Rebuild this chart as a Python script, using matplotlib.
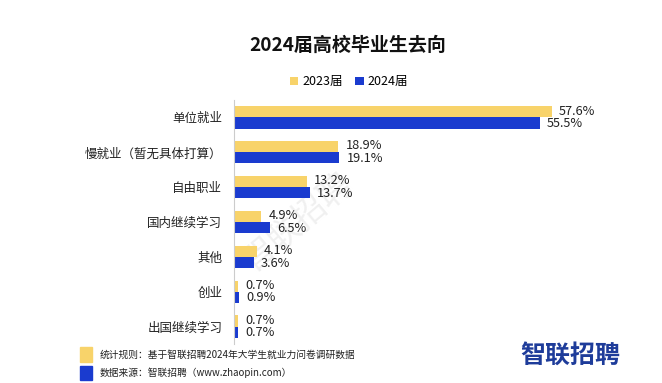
import matplotlib
matplotlib.use('Agg')
import matplotlib.pyplot as plt
from matplotlib.patches import Rectangle
import numpy as np

plt.rcParams['font.family'] = ['Noto Sans CJK SC', 'DejaVu Sans']

categories = ['单位就业', '慢就业（暂无具体打算）', '自由职业', '国内继续学习', '其他', '创业', '出国继续学习']
vals_2023 = [57.6, 18.9, 13.2, 4.9, 4.1, 0.7, 0.7]
vals_2024 = [55.5, 19.1, 13.7, 6.5, 3.6, 0.9, 0.7]
series_names = ['2023届', '2024届']

yellow = '#F8D36A'
blue = '#1A3BCF'

fig = plt.figure(figsize=(6.62, 3.83), dpi=100, facecolor='white')
ax = fig.add_axes([0.3535, 0.102, 0.583, 0.637])

y = np.arange(len(categories))
h = 0.32
b1 = ax.barh(y - h / 2, vals_2023, h, color=yellow, label=series_names[0], zorder=2)
b2 = ax.barh(y + h / 2, vals_2024, h, color=blue, label=series_names[1], zorder=2)

for yi, v in zip(y, vals_2023):
    ax.text(v + 1.3, yi - h / 2 - 0.02, f'{v}%', va='center', ha='left', fontsize=9.2, color='#222222')
for yi, v in zip(y, vals_2024):
    ax.text(v + 1.3, yi + h / 2 + 0.02, f'{v}%', va='center', ha='left', fontsize=9.2, color='#222222')

ax.set_xlim(0, 70)
ax.set_ylim(len(categories) - 0.5, -0.5)
ax.set_yticks(y)
ax.set_yticklabels(categories, fontsize=9, color='#222222')
ax.set_xticks([])
ax.tick_params(axis='y', length=0, pad=8.5)
for s in ['top', 'right', 'bottom']:
    ax.spines[s].set_visible(False)
ax.spines['left'].set_color('#cccccc')
ax.spines['left'].set_linewidth(0.8)

# faint watermark behind the bars
ax.text(0.45, 0.42, '智联招聘', rotation=40, fontsize=24, color='#f0f0f0',
        ha='center', va='center', zorder=0, transform=fig.transFigure)

fig.text(0.525, 0.882, '2024届高校毕业生去向', ha='center', va='center',
         fontsize=13.7, fontweight='bold', color='#111111')

fig.legend(handles=[b1, b2], labels=series_names, loc='center', bbox_to_anchor=(0.527, 0.786),
           ncol=2, frameon=False, fontsize=9, handlelength=0.7, handleheight=0.7,
           handletextpad=0.3, columnspacing=1.0)

# footer notes
fig.add_artist(Rectangle((0.121, 0.055), 0.018, 0.039, transform=fig.transFigure, color=yellow))
fig.add_artist(Rectangle((0.121, 0.008), 0.018, 0.037, transform=fig.transFigure, color=blue))
fig.text(0.15, 0.073, '统计规则：基于智联招聘2024年大学生就业力问卷调研数据', fontsize=7,
         va='center', ha='left', color='#222222')
fig.text(0.15, 0.027, '数据来源：智联招聘（www.zhaopin.com）', fontsize=7,
         va='center', ha='left', color='#222222')

fig.text(0.861, 0.072, '智联招聘', fontsize=18, fontweight='bold', color='#1E3C9A',
         ha='center', va='center')

fig.savefig('out.png', dpi=100, facecolor='white')
